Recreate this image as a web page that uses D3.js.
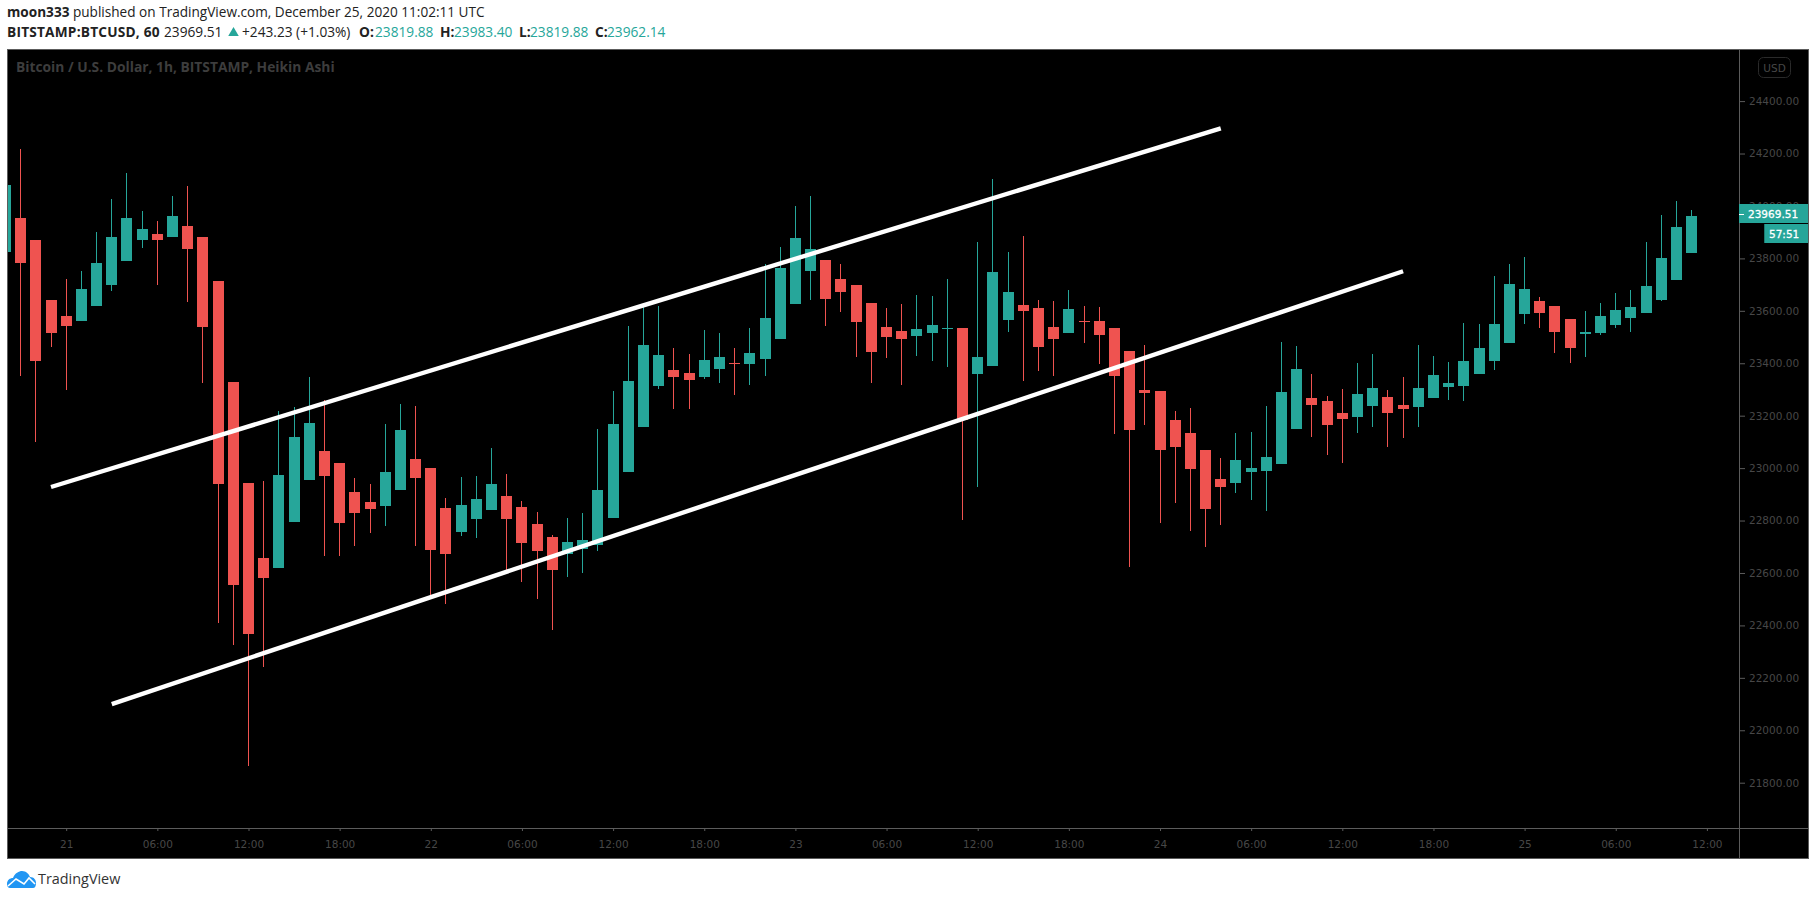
<!DOCTYPE html>
<html>
<head>
<meta charset="utf-8">
<style>
  html, body { margin: 0; padding: 0; background: #fff; }
  svg { display: block; }
  .tick text { font-family: "DejaVu Sans", sans-serif; font-size: 10.5px; fill: #474747; }
</style>
</head>
<body>
<script src="https://cdnjs.cloudflare.com/ajax/libs/d3/7.8.5/d3.min.js"></script>
<script>
// hourly candles, hour 0 is midnight of the 21st
var firstHour = -4;
var opens = [23824,23953,23869,23641,23580,23561,23618,23698,23789,23869,
  23892,23881,23923,23881,23713,23328,22943,22657,22619,22794,
  22954,23065,23019,22908,22870,22855,22916,23034,23000,22847,
  22756,22806,22840,22893,22851,22786,22737,22672,22691,22706,
  22809,22985,23156,23313,23374,23362,23347,23377,23400,23397,
  23416,23492,23625,23751,23793,23721,23698,23629,23538,23522,
  23503,23515,23532,23534,23358,23389,23564,23622,23610,23538,
  23515,23561,23561,23534,23446,23297,23294,23183,23133,23069,
  22958,22943,22985,22989,23015,23149,23267,23255,23210,23194,
  23236,23271,23240,23233,23267,23309,23313,23358,23408,23477,
  23587,23637,23618,23568,23511,23515,23545,23572,23591,23641,
  23717,23819.88];
var closes = [24079,23782,23408,23515,23541,23683,23782,23881,23953,23911,
  23869,23961,23835,23538,22939,22554,22367,22581,22973,23118,
  23172,22969,22790,22828,22844,22985,23145,22962,22687,22672,
  22859,22882,22939,22806,22714,22684,22611,22718,22725,22916,
  23168,23332,23469,23431,23347,23336,23412,23423,23398,23438,
  23572,23763,23877,23835,23644,23671,23557,23442,23500,23492,
  23530,23545,23534,23183,23423,23747,23671,23599,23461,23492,
  23606,23559,23507,23351,23145,23286,23069,23080,22996,22844,
  22928,23031,23000,23042,23290,23377,23240,23164,23187,23282,
  23305,23210,23225,23305,23355,23324,23408,23458,23549,23702,
  23683,23591,23519,23458,23519,23580,23602,23614,23694,23801,
  23919,23962.14];
var highs = [24079,24216,23869,23641,23721,23751,23900,24026,24125,23980,
  23942,24037,24075,23881,23713,23328,22943,22950,23217,23233,
  23347,23259,23019,22962,22939,23168,23244,23236,23000,22886,
  22966,22969,23076,22977,22874,22832,22745,22809,22828,23149,
  23294,23541,23614,23618,23458,23435,23526,23515,23458,23534,
  23778,23843,23999,24037,23793,23778,23698,23629,23610,23625,
  23660,23656,23721,23534,23862,24102,23824,23885,23641,23637,
  23679,23618,23614,23534,23446,23469,23294,23217,23229,23069,
  23038,23133,23137,23236,23480,23465,23358,23275,23301,23400,
  23435,23297,23347,23469,23427,23404,23553,23549,23732,23778,
  23805,23652,23618,23568,23599,23629,23667,23679,23862,23965,
  24018,23983.40];
var lows = [23824,23351,23099,23461,23297,23561,23618,23675,23789,23839,
  23698,23881,23633,23324,22409,22325,21864,22241,22619,22794,
  22954,22664,22664,22703,22752,22779,22916,22703,22516,22481,
  22741,22733,22840,22611,22565,22500,22382,22584,22600,22684,
  22809,22985,23156,23301,23225,23225,23339,23324,23278,23316,
  23351,23492,23625,23641,23541,23595,23423,23324,23419,23316,
  23427,23408,23385,22802,22928,23389,23519,23332,23370,23351,
  23515,23477,23397,23130,22623,23164,22790,22867,22760,22699,
  22783,22905,22878,22836,23015,23149,23118,23050,23019,23133,
  23156,23080,23114,23156,23267,23259,23255,23358,23374,23477,
  23549,23534,23438,23400,23423,23507,23534,23519,23591,23637,
  23717,23819.88];

// hand drawn channel: hour and price at each end
var upperHours = [-1, 76], upperPrices = [22928, 24296];
var lowerHours = [3, 88], lowerPrices = [22100, 23751];

var priceTicks = [24400,24200,24000,23800,23600,23400,23200,23000,22800,22600,22400,22200,22000,21800];
var timeTicks = [0,6,12,18,24,30,36,42,48,54,60,66,72,78,84,90,96,102,108];
var timeLabels = ["21","06:00","12:00","18:00","22","06:00","12:00","18:00","23","06:00","12:00","18:00","24","06:00","12:00","18:00","25","06:00","12:00"];
var lastPrice = [23969.51];
var countdown = ["57:51"];

var upColor = "#26a69a", downColor = "#ef5350", frameColor = "#5c5c5c";
var width = 1816, height = 900;
var left = 7, right = 1808, top_ = 49, bottom = 858, axisX = 1739, axisY = 828;

var x = d3.scaleLinear().domain([0, 108]).range([66.2, 1706.9]);
var y = d3.scaleLinear().domain([21800, 24400]).range([782.7, 101.1]);

var svg = d3.select("body").append("svg")
    .attr("width", width)
    .attr("height", height);

// header
var headFont = '"Open Sans", sans-serif';
var line1 = svg.append("text").attr("x", 7).attr("y", 17)
    .attr("font-family", headFont).attr("font-size", 13.6).attr("fill", "#222");
line1.append("tspan").attr("font-weight", 700).text("moon333");
line1.append("tspan").text(" published on TradingView.com, December 25, 2020 11:02:11 UTC");

var headPieces = ["BITSTAMP:BTCUSD, 60","23969.51","+243.23 (+1.03%)","O:","23819.88","H:","23983.40","L:","23819.88","C:","23962.14"];
var headX = [7,164,242,359,375,440,454,519,530,595,607];
var headKind = ["b","n","n","b","v","b","v","b","v","b","v"];
svg.selectAll("text.head").data(headPieces).enter().append("text")
    .attr("class", "head")
    .attr("x", function(d, i){ return headX[i]; })
    .attr("y", 37)
    .attr("font-family", headFont)
    .attr("font-size", 13.7)
    .attr("font-weight", function(d, i){ return headKind[i] == "b" ? 700 : 400; })
    .attr("letter-spacing", function(d, i){ return i == 0 ? 0.2 : 0; })
    .attr("fill", function(d, i){ return headKind[i] == "v" ? upColor : "#222"; })
    .text(function(d){ return d; });
svg.append("path")
    .attr("d", d3.symbol(d3.symbolTriangle, 48))
    .attr("transform", "translate(233.5,33)")
    .attr("fill", upColor);

// panel
svg.append("rect")
    .attr("x", left + 0.5).attr("y", top_ + 0.5)
    .attr("width", right - left).attr("height", bottom - top_)
    .attr("fill", "#000").attr("stroke", frameColor);

svg.append("defs").append("clipPath").attr("id", "plot").append("rect")
    .attr("x", left + 1).attr("y", top_ + 1)
    .attr("width", axisX - left - 1).attr("height", axisY - top_ - 1);

svg.append("text").attr("x", 16).attr("y", 72)
    .attr("font-family", headFont).attr("font-size", 13.8).attr("font-weight", 700)
    .attr("fill", "#3d3d3d")
    .text("Bitcoin / U.S. Dollar, 1h, BITSTAMP, Heikin Ashi");

// candles
var candles = d3.range(opens.length);
var plot = svg.append("g").attr("clip-path", "url(#plot)");
var colorOf = function(i){ return closes[i] >= opens[i] ? upColor : downColor; };
var cx = function(i){ return Math.floor(x(i + firstHour)); };

plot.selectAll("rect.wick").data(candles).enter().append("rect")
    .attr("class", "wick")
    .attr("x", cx)
    .attr("y", function(i){ return Math.round(y(highs[i])); })
    .attr("width", 1)
    .attr("height", function(i){ return Math.round(y(lows[i])) - Math.round(y(highs[i])); })
    .attr("fill", colorOf);

plot.selectAll("rect.body").data(candles).enter().append("rect")
    .attr("class", "body")
    .attr("x", function(i){ return cx(i) - 5; })
    .attr("y", function(i){ return Math.round(y(Math.max(opens[i], closes[i]))); })
    .attr("width", 11)
    .attr("height", function(i){
        return Math.max(1, Math.round(y(Math.min(opens[i], closes[i]))) - Math.round(y(Math.max(opens[i], closes[i]))));
    })
    .attr("fill", colorOf);

// channel lines
var channel = d3.line().x(function(d){ return x(d[0]); }).y(function(d){ return y(d[1]); });
[d3.zip(upperHours, upperPrices), d3.zip(lowerHours, lowerPrices)].forEach(function(pts){
    svg.append("path")
        .attr("d", channel(pts))
        .attr("fill", "none")
        .attr("stroke", "#fff")
        .attr("stroke-width", 4.4);
});

// axes
var priceAxis = d3.axisRight(y).tickValues(priceTicks)
    .tickFormat(function(d){ return d.toFixed(2); })
    .tickSize(6).tickPadding(4).tickSizeOuter(0);
var gPrice = svg.append("g").attr("transform", "translate(" + axisX + ",0)").call(priceAxis);
gPrice.select(".domain").remove();
gPrice.selectAll("line").attr("stroke", frameColor);

var timeAxis = d3.axisBottom(x).tickValues(timeTicks)
    .tickFormat(function(d, i){ return timeLabels[i]; })
    .tickSize(3).tickPadding(10).tickSizeOuter(0);
var gTime = svg.append("g").attr("transform", "translate(0," + axisY + ")").call(timeAxis);
gTime.select(".domain").remove();
gTime.selectAll("line").attr("stroke", frameColor);

svg.append("line").attr("x1", axisX + 0.5).attr("x2", axisX + 0.5).attr("y1", top_).attr("y2", bottom).attr("stroke", frameColor);
svg.append("line").attr("x1", left).attr("x2", right).attr("y1", axisY + 0.5).attr("y2", axisY + 0.5).attr("stroke", frameColor);

// USD box
svg.append("rect").attr("x", 1758.5).attr("y", 57.5).attr("width", 32).attr("height", 20).attr("rx", 5)
    .attr("fill", "none").attr("stroke", "#2a2a2a");
svg.append("text").attr("x", 1774.5).attr("y", 71.5).attr("text-anchor", "middle")
    .attr("font-family", "DejaVu Sans").attr("font-size", 10.5).attr("fill", "#474747").text("USD");

// last price tags
var lastY = Math.round(y(lastPrice[0]));
svg.append("rect").attr("x", axisX).attr("y", lastY - 10).attr("width", right - axisX).attr("height", 19).attr("fill", upColor);
svg.append("rect").attr("x", axisX).attr("y", lastY).attr("width", 5).attr("height", 1).attr("fill", "#fff");
svg.append("text").attr("x", axisX + 9).attr("y", lastY + 4)
    .attr("font-family", "DejaVu Sans").attr("font-size", 10.5).attr("stroke", "#fff").attr("stroke-width", 0.3).attr("fill", "#fff")
    .text(lastPrice[0].toFixed(2));
svg.append("rect").attr("x", 1764).attr("y", lastY + 10).attr("width", right - 1764).attr("height", 19).attr("fill", upColor);
svg.append("rect").attr("x", 1764).attr("y", lastY + 10).attr("width", 1).attr("height", 19).attr("fill", "#1c7a70");
svg.append("text").attr("x", 1769).attr("y", lastY + 24)
    .attr("font-family", "DejaVu Sans").attr("font-size", 10.5).attr("stroke", "#fff").attr("stroke-width", 0.3).attr("fill", "#fff")
    .text(countdown[0]);

// footer logo
var logo = svg.append("g").attr("transform", "translate(7,871)");
logo.append("path")
    .attr("d", "M0,13 C0,9 3,7 6,7 C8,2 12,0 15,0 C19,0 22,3 23,6 C27,6 29,9 29,12 C29,15 28,17 26,17 L3,17 C1,17 0,15 0,13 Z")
    .attr("fill", "#2196f3");
logo.append("path")
    .attr("d", "M1,15 L9,8 L17,13 L22,7 L28,13")
    .attr("fill", "none").attr("stroke", "#fff").attr("stroke-width", 1.6);
svg.append("text").attr("x", 38).attr("y", 884)
    .attr("font-family", headFont).attr("font-size", 14.4).attr("fill", "#333")
    .text("TradingView");
</script>
</body>
</html>
